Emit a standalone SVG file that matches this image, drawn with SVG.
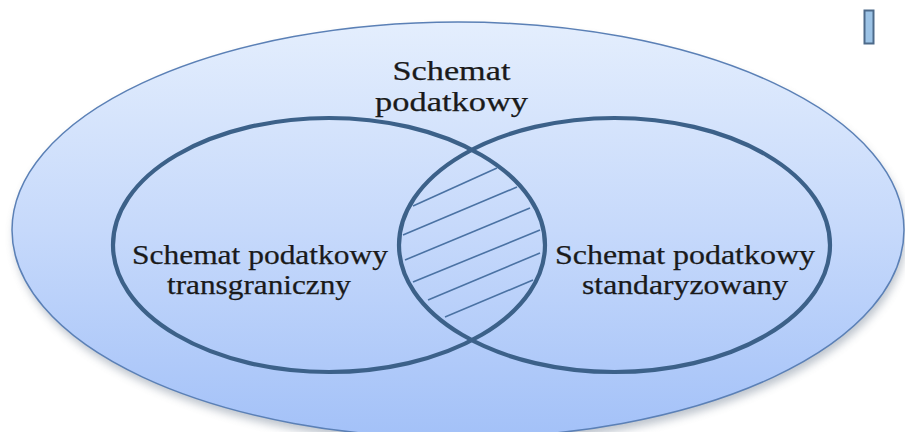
<svg xmlns="http://www.w3.org/2000/svg" width="905" height="432" viewBox="0 0 905 432">
  <defs>
    <linearGradient id="bg" x1="0" y1="0" x2="0" y2="1">
      <stop offset="0" stop-color="#e4eefd"/>
      <stop offset="0.5" stop-color="#c6d9fb"/>
      <stop offset="1" stop-color="#a3c1f8"/>
    </linearGradient>
    <filter id="shadow" x="-10%" y="-10%" width="120%" height="130%">
      <feGaussianBlur stdDeviation="4"/>
    </filter>
    <clipPath id="clipL"><ellipse cx="329" cy="245" rx="216" ry="127"/></clipPath>
    <clipPath id="clipR"><ellipse cx="614.5" cy="245" rx="215.5" ry="127"/></clipPath>
    <style>
      .lbl { fill: #1a1a1a; stroke: #1a1a1a; stroke-width: 0.25; text-anchor: middle; }
      .set { fill: none; stroke: #3c6189; stroke-width: 4.2; }
      .hatch { stroke: #4a72a3; stroke-width: 1.6; fill: none; }
    </style>
  </defs>
  <rect width="905" height="432" fill="#ffffff"/>

  <g id="universe">
    <ellipse cx="460" cy="236" rx="446" ry="208" fill="#6e7d90" opacity="0.45" filter="url(#shadow)"/>
    <ellipse cx="458" cy="230" rx="446" ry="208" fill="url(#bg)" stroke="#5b80b6" stroke-width="1.5"/>
    <text class="lbl" font-family="'Liberation Serif', serif" x="451.5" y="80" font-size="28" textLength="118" lengthAdjust="spacingAndGlyphs">Schemat</text>
    <text class="lbl" font-family="'Liberation Serif', serif" x="451.5" y="111" font-size="28" textLength="153" lengthAdjust="spacingAndGlyphs">podatkowy</text>
  </g>

  <g id="intersection">
    <g clip-path="url(#clipL)">
      <g clip-path="url(#clipR)">
        <line class="hatch" x1="413" y1="206" x2="497" y2="168"/>
        <line class="hatch" x1="403" y1="235" x2="517" y2="187"/>
        <line class="hatch" x1="405" y1="260" x2="530" y2="208"/>
        <line class="hatch" x1="413" y1="282" x2="540" y2="230"/>
        <line class="hatch" x1="428" y1="300" x2="540" y2="253"/>
        <line class="hatch" x1="445" y1="317" x2="533" y2="280"/>
      </g>
    </g>
  </g>

  <g id="left-set">
    <ellipse class="set" cx="329" cy="245" rx="216" ry="127"/>
    <text class="lbl" font-family="'Liberation Serif', serif" x="260" y="264" font-size="27" textLength="256" lengthAdjust="spacingAndGlyphs">Schemat podatkowy</text>
    <text class="lbl" font-family="'Liberation Serif', serif" x="259" y="294" font-size="27" textLength="184" lengthAdjust="spacingAndGlyphs">transgraniczny</text>
  </g>

  <g id="right-set">
    <ellipse class="set" cx="614.5" cy="245" rx="215.5" ry="127"/>
    <text class="lbl" font-family="'Liberation Serif', serif" x="685" y="264" font-size="27" textLength="260" lengthAdjust="spacingAndGlyphs">Schemat podatkowy</text>
    <text class="lbl" font-family="'Liberation Serif', serif" x="685" y="294" font-size="27" textLength="206" lengthAdjust="spacingAndGlyphs">standaryzowany</text>
  </g>

  <g id="marker-rect">
    <rect x="864.5" y="10.5" width="9" height="33" fill="#9cc3e6" stroke="#4d6a8a" stroke-width="2"/>
  </g>
</svg>
